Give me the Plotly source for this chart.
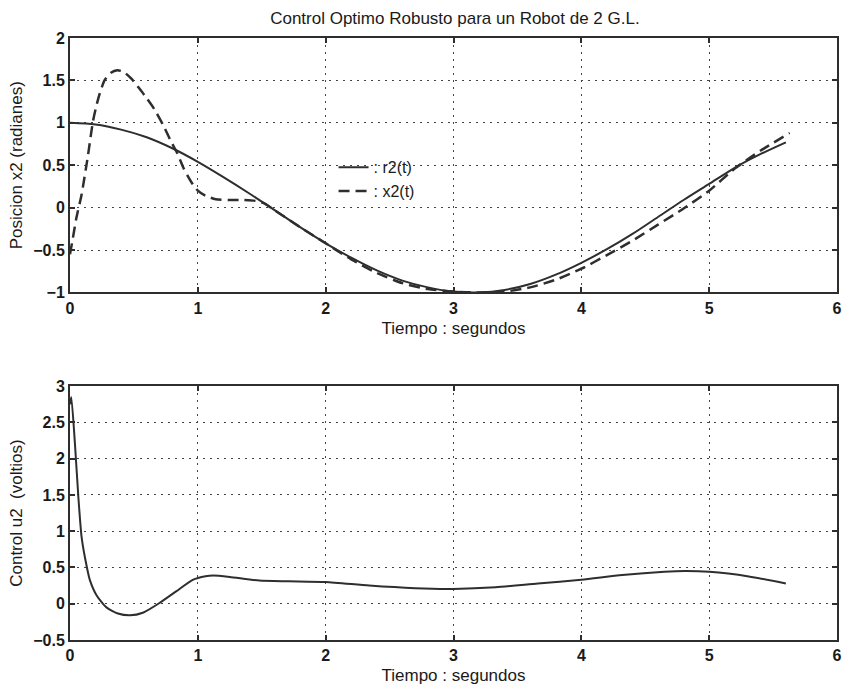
import plotly.graph_objects as go
from plotly.subplots import make_subplots

# reference r2(t)
t_r2 = [0, 0.2, 0.4, 0.6, 0.8, 1.0, 1.2, 1.4, 1.6, 1.8, 2.0, 2.2, 2.4, 2.6, 2.8,
        3.0, 3.2, 3.4, 3.6, 3.8, 4.0, 4.2, 4.4, 4.6, 4.8, 5.0, 5.2, 5.4, 5.6]
r2 = [1.0, 0.98, 0.92, 0.83, 0.70, 0.54, 0.36, 0.17, -0.03, -0.23, -0.42, -0.59,
      -0.74, -0.86, -0.94, -0.99, -1.0, -0.97, -0.90, -0.79, -0.65, -0.49, -0.31,
      -0.11, 0.09, 0.28, 0.47, 0.63, 0.77]

# position x2(t)
t_x2 = [0, 0.02, 0.05, 0.09, 0.14, 0.18, 0.22, 0.27, 0.32, 0.37, 0.42, 0.48, 0.54,
        0.60, 0.66, 0.73, 0.79, 0.84, 0.89, 0.95, 1.0, 1.06, 1.14, 1.25, 1.35, 1.45,
        1.52, 1.6, 1.8, 2.0, 2.2, 2.4, 2.6, 2.8, 3.0, 3.2, 3.4, 3.6, 3.8, 4.0, 4.2,
        4.4, 4.6, 4.8, 5.0, 5.2, 5.4, 5.63]
x2 = [-0.55, -0.38, -0.12, 0.15, 0.61, 1.02, 1.28, 1.50, 1.59, 1.62, 1.60, 1.52,
      1.41, 1.29, 1.16, 0.97, 0.78, 0.64, 0.46, 0.30, 0.20, 0.14, 0.10, 0.09, 0.09,
      0.08, 0.05, -0.03, -0.23, -0.42, -0.61, -0.77, -0.89, -0.96, -0.99, -1.0,
      -0.99, -0.94, -0.85, -0.72, -0.56, -0.39, -0.20, -0.01, 0.20, 0.46, 0.67, 0.88]

# control u2(t)
t_u2 = [0, 0.01, 0.04, 0.065, 0.09, 0.12, 0.155, 0.21, 0.285, 0.375, 0.47, 0.57,
        0.70, 0.83, 0.96, 1.06, 1.12, 1.25, 1.48, 1.71, 2.0, 2.34, 2.7, 3.0, 3.33,
        3.66, 4.0, 4.32, 4.65, 4.81, 5.0, 5.31, 5.6]
u2 = [2.75, 2.85, 2.17, 1.48, 0.93, 0.61, 0.33, 0.11, -0.05, -0.135, -0.16, -0.125,
      0.01, 0.17, 0.33, 0.38, 0.39, 0.37, 0.32, 0.31, 0.30, 0.25, 0.214, 0.205,
      0.227, 0.28, 0.33, 0.395, 0.44, 0.45, 0.44, 0.377, 0.28]

x_ticks = [0, 1, 2, 3, 4, 5, 6]

FONT = "Liberation Sans"
INK = "#1a1a1a"
LINE = "#2e2e2e"

fig = make_subplots(rows=2, cols=1, vertical_spacing=0.0)

fig.add_trace(go.Scatter(x=t_r2, y=r2, mode="lines", name=": r2(t)",
                         line=dict(color=LINE, width=2, shape="spline", smoothing=0.8)),
              row=1, col=1)
fig.add_trace(go.Scatter(x=t_x2, y=x2, mode="lines", name=": x2(t)",
                         line=dict(color=LINE, width=2.5, dash="11px,6px",
                                   shape="spline", smoothing=0.6)),
              row=1, col=1)
fig.add_trace(go.Scatter(x=t_u2, y=u2, mode="lines", showlegend=False,
                         line=dict(color=LINE, width=2, shape="spline", smoothing=0.6)),
              row=2, col=1)

axis_common = dict(showline=True, linecolor=LINE, linewidth=2, mirror="ticks",
                   ticks="inside", ticklen=5, tickwidth=1.5, tickcolor=LINE,
                   showgrid=True, gridcolor="#444444", griddash="2px,5px", gridwidth=1,
                   zeroline=False, automargin=False, ticklabeloverflow="allow",
                   tickfont=dict(family=FONT, size=16, color=INK, weight="bold"))

fig.update_xaxes(**axis_common, range=[0, 6], tickvals=x_ticks,
                 title=dict(text="Tiempo : segundos", standoff=6,
                            font=dict(family=FONT, size=17, color=INK)))
fig.update_yaxes(**axis_common)

fig.update_yaxes(row=1, col=1, range=[-1, 2], dtick=0.5, domain=[0.5773, 1.0],
                 title=dict(text="Posicion x2 (radianes)", standoff=6,
                            font=dict(family=FONT, size=17, color=INK)))
fig.update_yaxes(row=2, col=1, range=[-0.5, 3], dtick=0.5, domain=[0.0, 0.4216],
                 title=dict(text="Control u2  (voltios)", standoff=6,
                            font=dict(family=FONT, size=17, color=INK)))

fig.update_layout(
    width=844, height=686,
    margin=dict(l=70, r=7, t=38, b=45.5),
    paper_bgcolor="white", plot_bgcolor="white",
    title=dict(text="Control Optimo Robusto para un Robot de 2 G.L.",
               x=0.539, xanchor="center", y=0.974, yanchor="middle",
               font=dict(family=FONT, size=17, color=INK)),
    legend=dict(x=0.3436, y=0.8134, xanchor="left", yanchor="top",
                bgcolor="rgba(0,0,0,0)", borderwidth=0,
                font=dict(family=FONT, size=16, color=INK),
                itemwidth=30, tracegroupgap=0),
    showlegend=True,
)

fig.write_html("out.html",
               config={"displayModeBar": False},
               post_script="document.body.style.margin='0';"
                           "document.body.style.overflow='hidden';")
